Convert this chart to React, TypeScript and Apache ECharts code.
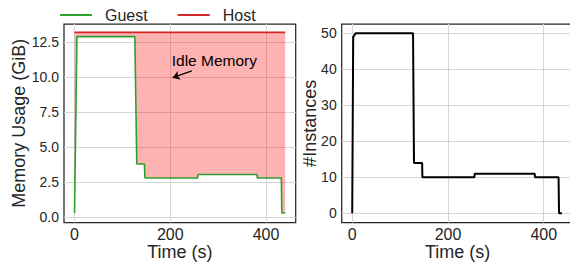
import React, { useEffect, useRef } from 'react';
import * as echarts from 'echarts';

const guestTime = [0, 5, 126, 130, 146, 147, 257, 258, 381, 382, 432, 433, 440];
const guestMem = [0.3, 12.9, 12.9, 3.8, 3.8, 2.8, 2.8, 3.05, 3.05, 2.8, 2.8, 0.3, 0.3];
const hostTime = [0, 440];
const hostMem = [13.2, 13.2];
const instTime = [0, 2, 7, 127, 129, 146, 146.5, 255, 256, 381, 382, 431, 432, 438];
const instCount = [0, 49, 50, 50, 14, 14, 10, 10, 11, 11, 10, 10, 0, 0];
const xTicks = [0, 200, 400];
const memTicks = [0, 2.5, 5, 7.5, 10, 12.5];
const instTicks = [0, 10, 20, 30, 40, 50];
const annotation = { text: 'Idle Memory', textAt: [202, 11.2], arrowFrom: [245, 10.45], arrowTo: [205, 9.97] };

const FONT = '"Liberation Sans", Arial, sans-serif';
const TXT = '#262626';
const GRIDC = '#d6d6d6';

function xAxisCfg(gridIndex: number) {
  return {
    type: 'value' as const,
    gridIndex,
    min: -22,
    max: 462,
    axisLine: { show: false },
    axisTick: { show: false, customValues: xTicks },
    axisLabel: { customValues: xTicks, fontSize: 16, color: TXT, fontFamily: FONT, margin: 4 },
    splitLine: { show: true, lineStyle: { color: GRIDC, width: 1 } },
    name: 'Time (s)',
    nameLocation: 'middle' as const,
    nameGap: 20,
    nameMoveOverlap: false,
    nameTextStyle: { fontSize: 18, lineHeight: 18, color: TXT, fontFamily: FONT },
  };
}

export default function App() {
  const ref = useRef<HTMLDivElement>(null);
  useEffect(() => {
    if (!ref.current) return;
    const chart = echarts.init(ref.current, undefined, { renderer: 'svg' });
    const guestPts = guestTime.map((t, i) => [t, guestMem[i]]);
    const hostPts = hostTime.map((t, i) => [t, hostMem[i]]);
    const instPts = instTime.map((t, i) => [t, instCount[i]]);
    const lineIcon = 'path://M0,0H32V2H0Z';
    chart.setOption({
      animation: false,
      textStyle: { fontFamily: FONT },
      legend: {
        data: [
          { name: 'Guest', icon: lineIcon },
          { name: 'Host', icon: lineIcon },
        ],
        left: 60,
        top: 7,
        padding: 0,
        itemWidth: 32,
        itemHeight: 14,
        itemGap: 30,
        textStyle: { fontSize: 16, color: TXT, fontFamily: FONT, padding: [0, 0, 0, 8] },
      },
      grid: [
        { left: 64, top: 24, width: 231.7, height: 198.7, show: true, borderColor: '#262626', borderWidth: 1.25, backgroundColor: 'transparent', containLabel: false, outerBoundsMode: 'none' },
        { left: 341.7, top: 24, width: 231.7, height: 198.7, show: true, borderColor: '#262626', borderWidth: 1.25, backgroundColor: 'transparent', containLabel: false, outerBoundsMode: 'none' },
      ],
      xAxis: [xAxisCfg(0), xAxisCfg(1)],
      yAxis: [
        {
          type: 'value',
          gridIndex: 0,
          min: -0.39,
          max: 13.8,
          axisLine: { show: false },
          axisTick: { show: false, customValues: memTicks },
          axisLabel: { customValues: memTicks, fontSize: 14, color: TXT, fontFamily: FONT, margin: 5, formatter: (v: number) => v.toFixed(1) },
          splitLine: { show: true, lineStyle: { color: GRIDC, width: 1 } },
          name: 'Memory Usage (GiB)',
          nameLocation: 'middle',
          nameGap: 36,
          nameMoveOverlap: false,
          nameTextStyle: { fontSize: 18, color: TXT, fontFamily: FONT },
        },
        {
          type: 'value',
          gridIndex: 1,
          min: -2.6,
          max: 52.6,
          axisLine: { show: false },
          axisTick: { show: false, customValues: instTicks },
          axisLabel: { customValues: instTicks, fontSize: 14, color: TXT, fontFamily: FONT, margin: 5 },
          splitLine: { show: true, lineStyle: { color: GRIDC, width: 1 } },
          name: '#Instances',
          nameLocation: 'middle',
          nameGap: 23,
          nameMoveOverlap: false,
          nameTextStyle: { fontSize: 18, color: TXT, fontFamily: FONT },
        },
      ],
      series: [
        {
          name: 'idle',
          type: 'custom',
          xAxisIndex: 0,
          yAxisIndex: 0,
          data: [[guestTime[0], hostMem[0]]],
          silent: true,
          z: 1,
          renderItem: (params: any, api: any) => {
            const top = hostMem[0];
            const pts: number[][] = [];
            pts.push(api.coord([guestTime[0], top]));
            pts.push(api.coord([guestTime[guestTime.length - 1], top]));
            for (let i = guestTime.length - 1; i >= 0; i--) {
              pts.push(api.coord([guestTime[i], guestMem[i]]));
            }
            return { type: 'polygon', shape: { points: pts }, style: { fill: 'rgba(255,0,0,0.3)' } };
          },
        },
        {
          name: 'Guest',
          type: 'line',
          xAxisIndex: 0,
          yAxisIndex: 0,
          data: guestPts,
          symbol: 'none',
          color: '#2ca02c',
          lineStyle: { color: '#2ca02c', width: 1.6 },
          z: 3,
          markLine: {
            silent: true,
            symbol: ['none', 'arrow'],
            symbolSize: 7,
            label: { show: false },
            lineStyle: { color: '#000', width: 1.3, type: 'solid' },
            data: [[{ coord: annotation.arrowFrom }, { coord: annotation.arrowTo }]],
          },
          markPoint: {
            silent: true,
            symbol: 'circle',
            symbolSize: 1,
            itemStyle: { color: 'transparent' },
            label: { show: true, position: 'right', distance: 0, formatter: annotation.text, fontSize: 15.5, color: '#000', fontFamily: FONT },
            data: [{ coord: annotation.textAt }],
          },
        },
        {
          name: 'Host',
          type: 'line',
          xAxisIndex: 0,
          yAxisIndex: 0,
          data: hostPts,
          symbol: 'none',
          color: '#d62728',
          lineStyle: { color: '#d62728', width: 1.6 },
          z: 4,
        },
        {
          name: 'Instances',
          type: 'line',
          xAxisIndex: 1,
          yAxisIndex: 1,
          data: instPts,
          symbol: 'none',
          color: '#000',
          lineStyle: { color: '#000', width: 2 },
          z: 3,
        },
      ],
    });
    return () => chart.dispose();
  }, []);
  return <div ref={ref} style={{ position: 'absolute', left: 0, top: 0, width: 570, height: 265 }} />;
}
